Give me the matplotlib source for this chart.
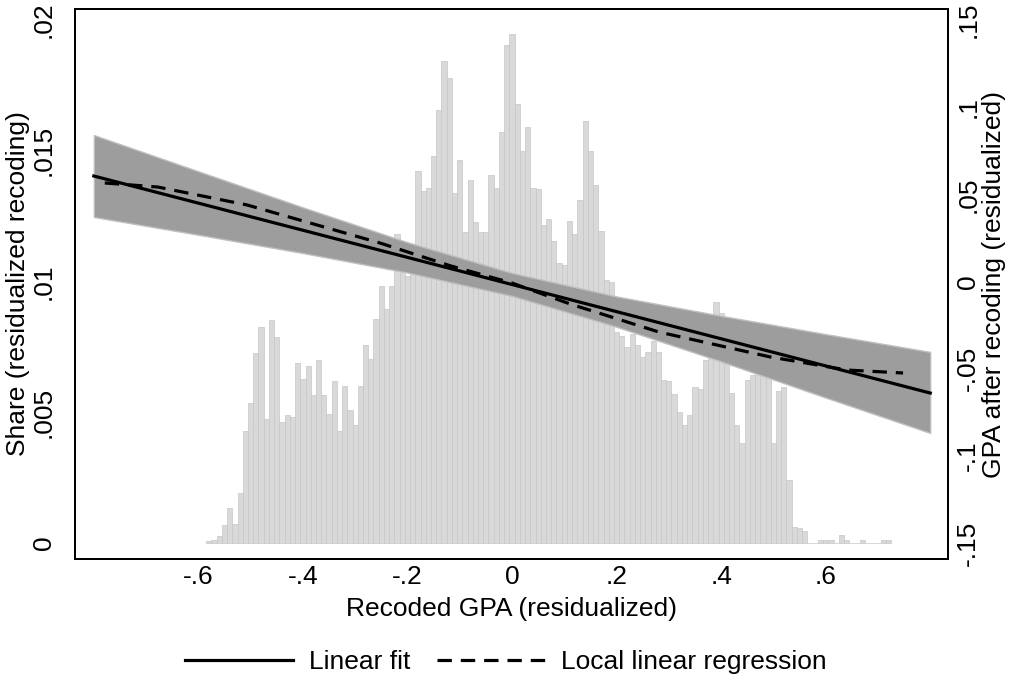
import numpy as np
import matplotlib
matplotlib.use("Agg")
import matplotlib.pyplot as plt

plt.rcParams['font.family'] = ['Liberation Sans', 'DejaVu Sans']

# histogram: bins of width .01 centred at -.58, -.57, ...
bin_start = -0.58
bin_width = 0.01
share = [
    0.00008, 0.00011, 0.00027, 0.00069, 0.00134, 0.00073, 0.00191, 0.00428, 0.00535, 0.00727,
    0.00826, 0.00474, 0.00853, 0.00788, 0.00463, 0.00489, 0.00482, 0.00688, 0.00627, 0.00677,
    0.00566, 0.00700, 0.00566, 0.00493, 0.00620, 0.00428, 0.00600, 0.00509, 0.00451, 0.00600,
    0.00757, 0.00704, 0.00857, 0.00983, 0.00895, 0.00983, 0.01182, 0.01070, 0.01020, 0.01100,
    0.01421, 0.01348, 0.01359, 0.01480, 0.01656, 0.01842, 0.01779, 0.01339, 0.01465, 0.01189,
    0.01387, 0.01227, 0.01189, 0.01189, 0.01407, 0.01359, 0.01572, 0.01906, 0.01947, 0.01680,
    0.01499, 0.01589, 0.01359, 0.01353, 0.01216, 0.01240, 0.01155, 0.01070, 0.01063, 0.01230,
    0.01180, 0.01312, 0.01612, 0.01499, 0.01369, 0.01195, 0.01004, 0.00998, 0.00807, 0.00793,
    0.00749, 0.00799, 0.00759, 0.00711, 0.00731, 0.00772, 0.00731, 0.00623, 0.00619, 0.00570,
    0.00502, 0.00451, 0.00489, 0.00595, 0.00589, 0.00700, 0.00720, 0.00920, 0.00880, 0.00684,
    0.00574, 0.00451, 0.00383, 0.00625, 0.00642, 0.00660, 0.00670, 0.00670, 0.00382, 0.00581,
    0.00595, 0.00241, 0.00061, 0.00059, 0.00046, 0.0, 0.0, 0.00012, 0.00012, 0.00012,
    0.0, 0.00030, 0.00012, 0.0, 0.0, 0.00010, 0.0, 0.0, 0.0, 0.00010,
    0.00010,
]

# linear fit and its confidence band (right axis)
fit_x = [-0.80, 0.80]
fit_y = [0.0605, -0.0640]
ci_x = [-0.8, -0.6, -0.4, -0.2, 0.0, 0.2, 0.4, 0.6, 0.8]
ci_hi = [0.0840, 0.0632, 0.0425, 0.0225, 0.0049, -0.0086, -0.0197, -0.0302, -0.0404]
ci_lo = [0.0370, 0.0268, 0.0163, 0.0051, -0.0083, -0.0260, -0.0459, -0.0666, -0.0869]

# local linear regression
llr_x = [-0.779, -0.678, -0.507, -0.253, -0.117, 0.0, 0.111, 0.281, 0.494, 0.641, 0.748]
llr_y = [0.0565, 0.0542, 0.0439, 0.0221, 0.0089, -0.0009, -0.0129, -0.0290, -0.0433, -0.0508, -0.0525]

xticks = [-0.6, -0.4, -0.2, 0, 0.2, 0.4, 0.6]
xticklabels = ['-.6', '-.4', '-.2', '0', '.2', '.4', '.6']
lticks = [0, 0.005, 0.01, 0.015, 0.02]
lticklabels = ['0', '.005', '.01', '.015', '.02']
rticks = [-0.15, -0.1, -0.05, 0, 0.05, 0.1, 0.15]
rticklabels = ['-.15', '-.1', '-.05', '0', '.05', '.1', '.15']

fs = 19

fig = plt.figure(figsize=(10.11, 6.79), dpi=100)
ax = fig.add_axes([75/1011, 1-559/679, (948-75)/1011, (559-9)/679])

centers = bin_start + bin_width*np.arange(len(share))
ax.bar(centers, share, width=bin_width, color='#d9d9d9', edgecolor='#c6c6c6', linewidth=0.5)
ax.set_xlim(-0.836, 0.834)
ax.set_ylim(-0.00061, 0.02042)
ax.set_xticks(xticks)
ax.set_xticklabels(xticklabels, fontsize=fs)
ax.set_yticks(lticks)
ax.set_yticklabels(lticklabels, fontsize=fs, rotation=90, va='center')
ax.tick_params(axis='x', length=0, pad=4)
ax.tick_params(axis='y', length=0, pad=14)
ax.set_xlabel('Recoded GPA (residualized)', fontsize=fs, labelpad=6)
ax.set_ylabel('Share (residualized recoding)', fontsize=fs, labelpad=1)
for s in ax.spines.values():
    s.set_linewidth(1.4)

ax2 = ax.twinx()
ax2.fill_between(ci_x, ci_lo, ci_hi, color='#9d9d9d', edgecolor='#c0c0c0', linewidth=1)
ax2.plot(fit_x, fit_y, color='black', lw=2.3, label='Linear fit')
ax2.plot(llr_x, llr_y, color='black', lw=2.3, ls=(0, (4.5, 2.8)), label='Local linear regression')
ax2.set_ylim(-0.1592, 0.1563)
ax2.set_yticks(rticks)
ax2.set_yticklabels(rticklabels, fontsize=fs, rotation=90, va='center')
ax2.tick_params(length=0, pad=6)
ax2.set_ylabel('GPA after recoding (residualized)', fontsize=fs, rotation=90, labelpad=1)
for s in ax2.spines.values():
    s.set_linewidth(1.4)

fig.legend(loc='center', bbox_to_anchor=(506/1011, 1-662/679), ncol=2, frameon=False,
           fontsize=fs, handlelength=4.1, columnspacing=1.0, handletextpad=0.6)

fig.savefig('out.png', dpi=100)
